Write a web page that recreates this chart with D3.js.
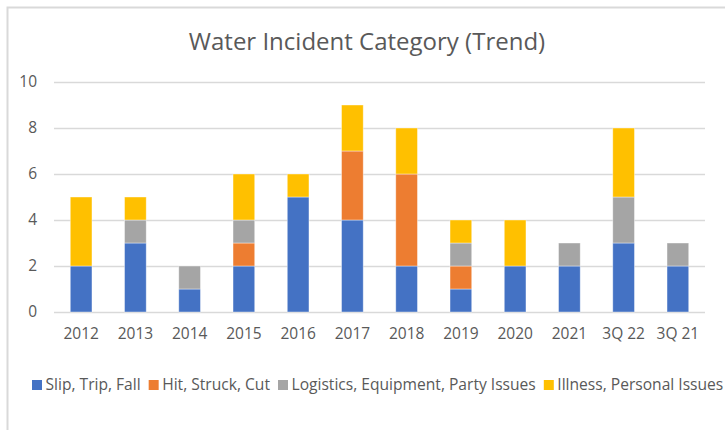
<!DOCTYPE html>
<html>
<head>
<meta charset="utf-8">
<script src="https://cdn.jsdelivr.net/npm/d3@7"></script>
<style>
  body { margin: 0; background: #fff; }
  svg text { font-family: "Open Sans", sans-serif; fill: #595959; }
</style>
</head>
<body>
<svg width="725" height="430"></svg>
<script>
// chart data
var categories = ["2012", "2013", "2014", "2015", "2016", "2017", "2018", "2019", "2020", "2021", "3Q 22", "3Q 21"];
var seriesNames = ["Slip, Trip, Fall", "Hit, Struck, Cut", "Logistics, Equipment, Party Issues", "Illness, Personal Issues"];
var slipTripFall = [2, 3, 1, 2, 5, 4, 2, 1, 2, 2, 3, 2];
var hitStruckCut = [0, 0, 0, 1, 0, 3, 4, 1, 0, 0, 0, 0];
var logistics    = [0, 1, 1, 1, 0, 0, 0, 1, 0, 1, 2, 1];
var illness      = [3, 1, 0, 2, 1, 2, 2, 1, 2, 0, 3, 0];
var yTicks = [0, 2, 4, 6, 8, 10];
var colors = ["#4472C4", "#ED7D31", "#A5A5A5", "#FFC000"];

var svg = d3.select("svg"),
    width = +svg.attr("width"),
    height = +svg.attr("height");

// outer chart frame (right/bottom run off the picture)
svg.append("rect")
    .attr("x", 7.5).attr("y", 7.5)
    .attr("width", width + 20).attr("height", height + 20)
    .attr("fill", "none")
    .attr("stroke", "#d9d9d9")
    .attr("stroke-width", 2);

svg.append("text")
    .attr("x", 367).attr("y", 42)
    .attr("dy", "0.35em")
    .attr("text-anchor", "middle")
    .style("font-size", "24px")
    .text("Water Incident Category (Trend)");

var rows = categories.map(function(c, i) {
  return { cat: c, s0: slipTripFall[i], s1: hitStruckCut[i], s2: logistics[i], s3: illness[i] };
});
var stack = d3.stack().keys(["s0", "s1", "s2", "s3"]);
var layers = stack(rows);

var x = d3.scaleBand()
    .domain(categories)
    .range([54, 705])
    .paddingInner(0.6)
    .paddingOuter(0.3);

var y = d3.scaleLinear()
    .domain([0, 10])
    .range([312, 82]);

// gridlines
svg.append("g")
  .selectAll("line")
  .data(yTicks)
  .enter().append("line")
    .attr("x1", 54).attr("x2", 705)
    .attr("y1", function(d) { return Math.round(y(d)) + 0.5; })
    .attr("y2", function(d) { return Math.round(y(d)) + 0.5; })
    .attr("stroke", "#d9d9d9")
    .attr("stroke-width", 1.3);

// y labels
var yAxis = svg.append("g")
    .attr("transform", "translate(37,0)")
    .call(d3.axisLeft(y).tickValues(yTicks).tickSize(0).tickPadding(0));
yAxis.select(".domain").remove();
yAxis.selectAll("text").style("font-size", "15.5px").attr("fill", "#595959");

// bars
svg.append("g")
  .selectAll("g")
  .data(layers)
  .enter().append("g")
    .attr("fill", function(d, i) { return colors[i]; })
  .selectAll("rect")
  .data(function(d) { return d.filter(function(p) { return p[1] > p[0]; }); })
  .enter().append("rect")
    .attr("x", function(d) { return x(d.data.cat); })
    .attr("width", x.bandwidth())
    .attr("y", function(d) { return y(d[1]); })
    .attr("height", function(d) { return y(d[0]) - y(d[1]); })
    .attr("stroke", "#ffffff")
    .attr("stroke-opacity", 0.5)
    .attr("stroke-width", 0.8);

// x labels
var xAxis = svg.append("g")
    .attr("transform", "translate(0,312)")
    .call(d3.axisBottom(x).tickSize(0).tickPadding(16));
xAxis.select(".domain").remove();
xAxis.selectAll("text").style("font-size", "15.5px").attr("fill", "#595959");

// legend
var legend = svg.append("g").attr("transform", "translate(32,385)");
var lx = 0;
seriesNames.forEach(function(name, i) {
  var g = legend.append("g").attr("transform", "translate(" + lx + ",0)");
  g.append("rect")
      .attr("x", 0).attr("y", -5)
      .attr("width", 10).attr("height", 10)
      .attr("fill", colors[i]);
  var t = g.append("text")
      .attr("x", 13.5).attr("dy", "0.35em")
      .style("font-size", "15.6px")
      .text(name);
  lx += 13.5 + t.node().getComputedTextLength() + 8;
});
</script>
</body>
</html>
